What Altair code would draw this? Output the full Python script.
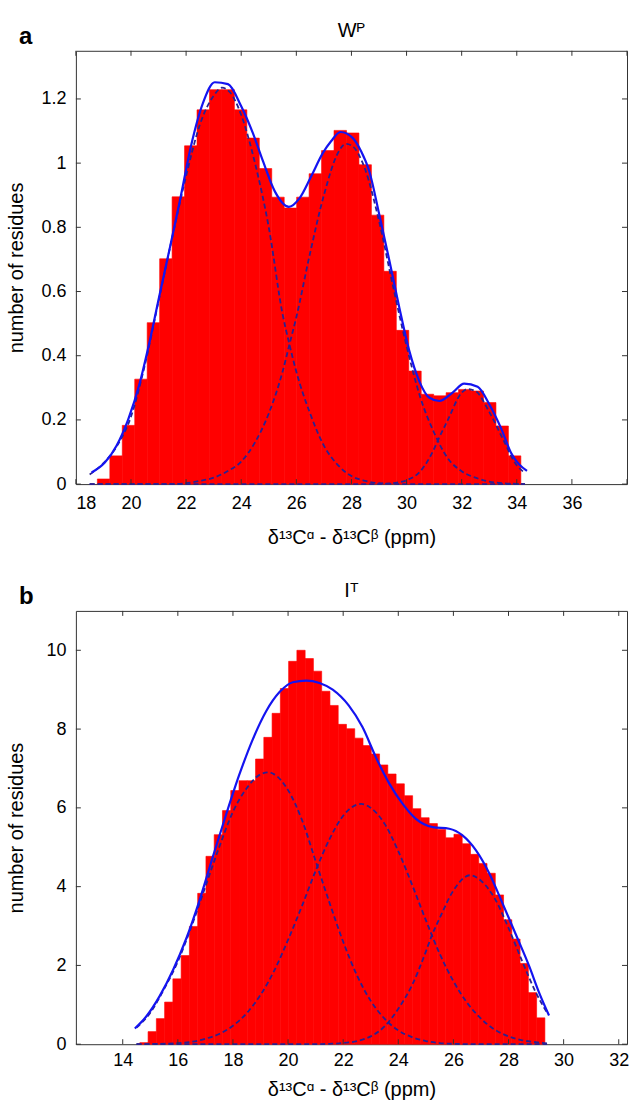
import altair as alt
import pandas as pd

FONT = "Liberation Sans"
W, H = 552, 434

# ---------------- panel a (W^P) ----------------
a_title = "Wᴾ"
a_bin_start, a_bin_width = 18.78, 0.452
a_counts = [0.016, 0.088, 0.183, 0.327, 0.503, 0.702, 0.895, 1.054, 1.166, 1.229,
            1.229, 1.166, 1.078, 0.983, 0.894, 0.860, 0.894, 0.967, 1.039, 1.102,
            1.094, 0.995, 0.838, 0.663, 0.479, 0.352, 0.280, 0.275, 0.285, 0.295,
            0.290, 0.254, 0.181, 0.088]
a_fit_x = [18.57, 19.05, 19.47, 19.90, 20.32, 20.68, 21.04, 21.41, 21.77, 22.19,
           22.61, 23.04, 23.52, 24.00, 24.42, 24.79, 25.22, 25.73, 26.12, 26.54,
           26.96, 27.26, 27.60, 28.05, 28.35, 28.65, 29.01, 29.38, 29.74, 30.10,
           30.46, 30.83, 31.19, 31.67, 32.09, 32.58, 33.00, 33.42, 33.79, 34.37]
a_fit_y = [0.036, 0.067, 0.119, 0.202, 0.316, 0.446, 0.591, 0.736, 0.881, 1.058,
           1.187, 1.252, 1.246, 1.177, 1.094, 1.006, 0.912, 0.864, 0.891, 0.959,
           1.031, 1.068, 1.097, 1.078, 1.037, 0.974, 0.840, 0.695, 0.549, 0.415,
           0.321, 0.269, 0.259, 0.285, 0.313, 0.303, 0.249, 0.176, 0.098, 0.041]
a_g1_x = [18.5, 19.0, 19.5, 20.0, 20.5, 21.0, 21.5, 22.0, 22.5, 23.0, 23.3, 23.6,
          24.0, 24.5, 25.0, 25.5, 25.75, 26.0, 26.5, 27.0, 27.5, 28.0, 28.5, 29.0,
          30.0, 34.3]
a_g1_y = [0.03, 0.065, 0.12, 0.21, 0.37, 0.57, 0.77, 0.96, 1.12, 1.21, 1.235, 1.22,
          1.15, 1.0, 0.80, 0.53, 0.435, 0.35, 0.22, 0.12, 0.06, 0.025, 0.01, 0.003,
          0.0, 0.0]
a_g2_x = [18.5, 21.5, 22.0, 22.5, 23.0, 23.5, 24.0, 24.5, 25.0, 25.5, 25.75, 26.0,
          26.5, 27.0, 27.5, 27.8, 28.0, 28.5, 29.0, 29.5, 30.0, 30.5, 31.0, 31.5,
          32.0, 32.5, 33.0, 33.5, 34.3]
a_g2_y = [0.0, 0.0, 0.003, 0.01, 0.02, 0.04, 0.07, 0.13, 0.22, 0.35, 0.435, 0.52,
          0.72, 0.90, 1.03, 1.06, 1.055, 0.98, 0.82, 0.62, 0.43, 0.27, 0.16, 0.08,
          0.04, 0.02, 0.008, 0.003, 0.0]
a_g3_x = [18.5, 29.0, 29.5, 30.0, 30.5, 31.0, 31.13, 31.5, 32.0, 32.2, 32.5, 33.0,
          33.5, 34.0, 34.3]
a_g3_y = [0.0, 0.0, 0.003, 0.012, 0.04, 0.11, 0.135, 0.20, 0.285, 0.296, 0.29,
          0.225, 0.14, 0.058, 0.035]
a_xdomain = [18, 38]
a_ydomain = [0, 1.35]
a_xlabels = [18, 20, 22, 24, 26, 28, 30, 32, 34, 36]
a_xticks = [18, 20, 22, 24, 26, 28, 30, 32, 34, 36, 38]
a_yticks = [0, 0.2, 0.4, 0.6, 0.8, 1.0, 1.2]

# ---------------- panel b (I^T) ----------------
b_title = "Iᵀ"
b_bin_start, b_bin_width = 14.62, 0.300
b_counts = [0.04, 0.32, 0.65, 1.07, 1.66, 2.25, 2.99, 3.83, 4.77, 5.32,
            5.93, 6.44, 6.69, 6.69, 7.24, 7.79, 8.40, 9.03, 9.72, 10.0,
            9.79, 9.47, 8.96, 8.60, 8.12, 8.01, 7.77, 7.58, 7.37, 7.09,
            6.86, 6.61, 6.31, 5.98, 5.75, 5.60, 5.45, 5.24, 5.33, 5.09,
            4.82, 4.59, 4.34, 3.79, 3.16, 2.67, 2.05, 1.31, 0.67]
b_fit_x = [14.44, 14.86, 15.34, 15.83, 16.31, 16.79, 17.27, 17.76, 18.24, 18.72,
           19.21, 19.69, 20.17, 20.66, 21.14, 21.62, 22.20, 22.70, 23.19, 23.68,
           24.16, 24.64, 25.25, 25.85, 26.33, 26.82, 27.30, 27.78, 28.27, 28.75,
           29.11, 29.47]
b_fit_y = [0.40, 0.71, 1.22, 1.89, 2.69, 3.66, 4.76, 5.85, 6.86, 7.74,
           8.46, 8.94, 9.19, 9.23, 9.17, 9.00, 8.60, 8.05, 7.28, 6.61,
           6.10, 5.72, 5.51, 5.47, 5.30, 4.92, 4.34, 3.58, 2.78, 1.98,
           1.31, 0.73]
b_g1_x = [14.5, 15.0, 15.5, 16.0, 16.5, 17.0, 17.5, 18.0, 18.5, 19.0, 19.3, 19.5,
          20.0, 20.5, 21.0, 21.5, 22.0, 22.5, 23.0, 23.5, 24.0, 24.5, 25.0, 25.5,
          26.0, 27.0, 29.4]
b_g1_y = [0.42, 0.8, 1.4, 2.1, 3.0, 4.0, 5.0, 5.9, 6.5, 6.85, 6.9, 6.85,
          6.45, 5.7, 4.65, 3.6, 2.6, 1.75, 1.1, 0.65, 0.35, 0.18, 0.08, 0.03,
          0.01, 0.0, 0.0]
b_g2_x = [14.5, 15.0, 16.0, 16.5, 17.0, 17.5, 18.0, 18.5, 19.0, 19.5, 20.0, 20.5,
          21.0, 21.5, 22.0, 22.65, 23.0, 23.5, 24.0, 24.5, 25.0, 25.5, 26.0, 26.5,
          27.0, 27.5, 28.0, 28.5, 29.0, 29.4]
b_g2_y = [0.0, 0.005, 0.03, 0.06, 0.14, 0.26, 0.47, 0.79, 1.25, 1.87, 2.65, 3.5,
          4.4, 5.2, 5.8, 6.1, 6.0, 5.6, 4.9, 4.05, 3.15, 2.3, 1.6, 1.05,
          0.65, 0.37, 0.2, 0.1, 0.05, 0.02]
b_g3_x = [14.5, 21.0, 21.5, 22.0, 22.5, 23.0, 23.5, 24.0, 24.5, 25.0, 25.2, 25.5,
          26.0, 26.6, 27.0, 27.5, 28.0, 28.5, 29.0, 29.4]
b_g3_y = [0.0, 0.0, 0.01, 0.03, 0.08, 0.2, 0.45, 0.9, 1.5, 2.35, 2.73, 3.2,
          3.9, 4.29, 4.15, 3.7, 2.95, 2.1, 1.3, 0.8]
b_xdomain = [12.3, 32.3]
b_ydomain = [0, 11]
b_xlabels = [14, 16, 18, 20, 22, 24, 26, 28, 30, 32]
b_xticks = [14, 16, 18, 20, 22, 24, 26, 28, 30, 32]
b_yticks = [0, 2, 4, 6, 8, 10]

x_title = "δ¹³Cᵅ - δ¹³Cᵝ (ppm)"
y_title = "number of residues"


def panel(title, letter, bin_start, bin_width, counts, fit_x, fit_y, comps,
          xdom, ydom, xlabels, xticks, yticks, yfmt,
          xlab_pad, xtitle_pad, ytitle_pad):
    lo = [round(bin_start + i * bin_width, 4) for i in range(len(counts))]
    hi = [round(v + bin_width, 4) for v in lo]
    bars = pd.DataFrame({"lo": lo, "hi": hi, "c": counts})
    fit = pd.DataFrame({"x": fit_x, "y": fit_y})
    rows = []
    for k, (cx, cy) in enumerate(comps):
        for xv, yv in zip(cx, cy):
            rows.append({"x": xv, "y": yv, "k": f"g{k}"})
    comp = pd.DataFrame(rows)

    xs = alt.Scale(domain=xdom, nice=False, zero=False)
    ys = alt.Scale(domain=ydom, nice=False, zero=False)
    xax = alt.Axis(values=xlabels, title=x_title, labelPadding=xlab_pad,
                   titlePadding=xtitle_pad, format="d")
    yax = alt.Axis(values=yticks, title=y_title, labelPadding=10,
                   titlePadding=ytitle_pad, format=yfmt)

    bar_layer = alt.Chart(bars).mark_rect(
        color="#ff0000", stroke="#ff0000", strokeWidth=0.6
    ).encode(
        x=alt.X("lo:Q", scale=xs, axis=xax, title=x_title),
        x2="hi:Q",
        y=alt.Y("c:Q", scale=ys, axis=yax, title=y_title),
        y2=alt.datum(0),
    )
    comp_layer = alt.Chart(comp).mark_line(
        color="#2b2190", strokeWidth=1.8, strokeDash=[5, 3], interpolate="monotone"
    ).encode(
        x=alt.X("x:Q", scale=xs, axis=xax, title=x_title),
        y=alt.Y("y:Q", scale=ys, axis=yax, title=y_title),
        detail="k:N",
    )
    fit_layer = alt.Chart(fit).mark_line(
        color="#1414f0", strokeWidth=2.2, interpolate="monotone"
    ).encode(
        x=alt.X("x:Q", scale=xs, axis=xax, title=x_title),
        y=alt.Y("y:Q", scale=ys, axis=yax, title=y_title),
    )
    xt = pd.DataFrame({"v": xticks})
    yt = pd.DataFrame({"v": yticks})
    tick_style = dict(color="#333333", strokeWidth=1)
    xt_bot = alt.Chart(xt).mark_rule(**tick_style).encode(
        x=alt.X("v:Q", scale=xs, axis=xax, title=x_title),
        y=alt.value(H), y2=alt.value(H - 5))
    xt_top = alt.Chart(xt).mark_rule(**tick_style).encode(
        x=alt.X("v:Q", scale=xs, axis=xax, title=x_title),
        y=alt.value(0), y2=alt.value(5))
    yt_left = alt.Chart(yt).mark_rule(**tick_style).encode(
        y=alt.Y("v:Q", scale=ys, axis=yax, title=y_title),
        x=alt.value(0), x2=alt.value(5))
    yt_right = alt.Chart(yt).mark_rule(**tick_style).encode(
        y=alt.Y("v:Q", scale=ys, axis=yax, title=y_title),
        x=alt.value(W), x2=alt.value(W - 5))
    letter_layer = alt.Chart(pd.DataFrame({"t": [letter]})).mark_text(
        font=FONT, fontSize=24, fontWeight="bold", align="left",
        baseline="alphabetic", color="#000000"
    ).encode(text="t:N", x=alt.value(-57), y=alt.value(-7))
    title_layer = alt.Chart(pd.DataFrame({"t": [title]})).mark_text(
        font=FONT, fontSize=20, align="center",
        baseline="alphabetic", color="#000000"
    ).encode(text="t:N", x=alt.value(W / 2), y=alt.value(-14))

    return alt.layer(
        bar_layer, comp_layer, fit_layer, xt_bot, xt_top, yt_left, yt_right,
        letter_layer, title_layer
    ).properties(width=W, height=H)


top = panel(a_title, "a", a_bin_start, a_bin_width, a_counts, a_fit_x, a_fit_y,
            [(a_g1_x, a_g1_y), (a_g2_x, a_g2_y), (a_g3_x, a_g3_y)],
            a_xdomain, a_ydomain, a_xlabels, a_xticks, a_yticks, ".1~f",
            10, 15, 14)
bottom = panel(b_title, "b", b_bin_start, b_bin_width, b_counts, b_fit_x, b_fit_y,
               [(b_g1_x, b_g1_y), (b_g2_x, b_g2_y), (b_g3_x, b_g3_y)],
               b_xdomain, b_ydomain, b_xlabels, b_xticks, b_yticks, "d",
               7, 10, 19)

chart = alt.vconcat(top, bottom, spacing=32).properties(
    padding={"left": 6, "top": 19, "right": 0, "bottom": 0},
    background="#ffffff",
).configure_axis(
    labelFont=FONT, labelFontSize=18, labelColor="#000000",
    titleFont=FONT, titleFontSize=20, titleFontWeight="normal", titleColor="#000000",
    grid=False, ticks=False, domain=False,
).configure_view(
    stroke="#333333", strokeWidth=1,
)

chart.save("out.html", embed_options={"renderer": "svg", "actions": False})
